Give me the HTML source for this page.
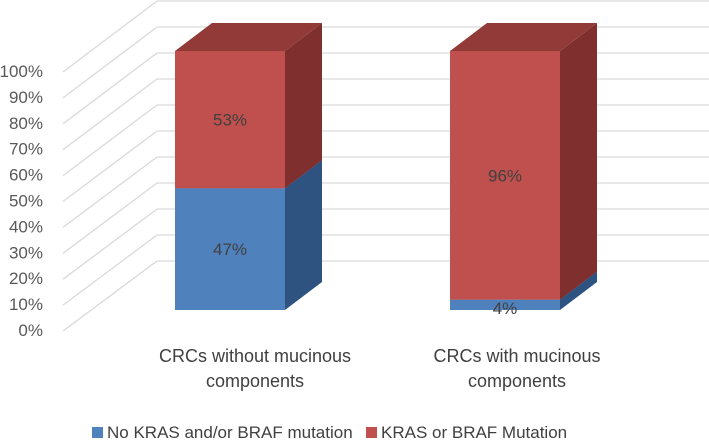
<!DOCTYPE html>
<html><head><meta charset="utf-8"><style>
html,body{margin:0;padding:0;background:#fff;width:709px;height:442px;overflow:hidden}
svg{display:block;font-family:"Liberation Sans",sans-serif}
</style></head><body>
<svg id="chart" width="709" height="442" viewBox="0 0 709 442"></svg>
<script>
const categories = [["CRCs without mucinous","components"],["CRCs with mucinous","components"]];
const seriesNames = ["No KRAS and/or BRAF mutation","KRAS or BRAF Mutation"];
const noMutation = [47, 4];
const mutation = [53, 96];
const tickLabels = ["0%","10%","20%","30%","40%","50%","60%","70%","80%","90%","100%"];
const tickValues = [0,10,20,30,40,50,60,70,80,90,100];

const NS="http://www.w3.org/2000/svg";
const svg=document.getElementById('chart');
function mk(t,a,p){const e=document.createElementNS(NS,t);for(const k in a)e.setAttribute(k,a[k]);(p||svg).appendChild(e);return e;}
const yFront=v=>310-v*2.59;
const yBack=v=>261-v*2.6;
const yLabel=v=>330-v*2.59;
const barX=[175,450], barW=110, DX=37, DY=28;
const catCenter=[255,517];
const colors={blue:["#4f81bd","#3a6190","#2f5380"],red:["#c0504d","#923a38","#7f302e"]};

tickValues.forEach((v,i)=>{
  const g=mk('g',{});
  
  
  mk('line',{x1:63,y1:yLabel(v)+1,x2:157,y2:yBack(v),stroke:'#d9d9d9','stroke-width':1.3},g);
  mk('line',{x1:157,y1:yBack(v),x2:709,y2:yBack(v),stroke:'#d9d9d9','stroke-width':1.3},g);
  const t=mk('text',{x:43,y:yLabel(v)+6,'text-anchor':'end','font-size':17,fill:'#595959'});
  
  
  t.textContent=tickLabels[i];
});

function box(x,v0,v1,c,name,label){
  const g=mk('g',{});
  
  
  const yb=yFront(v0), yt=yFront(v1);
  mk('polygon',{points:`${x+barW},${yb} ${x+barW+DX},${yb-DY} ${x+barW+DX},${yt-DY} ${x+barW},${yt}`,fill:c[2]},g);
  mk('polygon',{points:`${x},${yt} ${x+DX},${yt-DY} ${x+barW+DX},${yt-DY} ${x+barW},${yt}`,fill:c[1]},g);
  mk('rect',{x:x,y:yt,width:barW,height:yb-yt,fill:c[0]},g);
  const t=mk('text',{x:x+barW/2,y:(v1-v0)<10?yb+4:(yb+yt)/2+6,'text-anchor':'middle','font-size':17,fill:'#404040'},g);
  
  
  t.textContent=label;
}
categories.forEach((c,i)=>{
  box(barX[i],0,noMutation[i],colors.blue,'bar-no-mutation-'+(i+1),noMutation[i]+'%');
  box(barX[i],noMutation[i],noMutation[i]+mutation[i],colors.red,'bar-mutation-'+(i+1),mutation[i]+'%');
  c.forEach((line,j)=>{
    const t=mk('text',{x:catCenter[i],y:362+j*25,'text-anchor':'middle','font-size':18,fill:'#404040'});
    
    
    t.textContent=line;
  });
});
[[92,colors.blue[0]],[366,colors.red[0]]].forEach((l,i)=>{
  const g=mk('g',{});
  
  
  mk('rect',{x:l[0],y:427,width:11,height:11,fill:l[1]},g);
  const t=mk('text',{x:l[0]+15,y:438,'font-size':17,fill:'#404040'},g);
  t.textContent=seriesNames[i];
});
</script>
</body></html>
